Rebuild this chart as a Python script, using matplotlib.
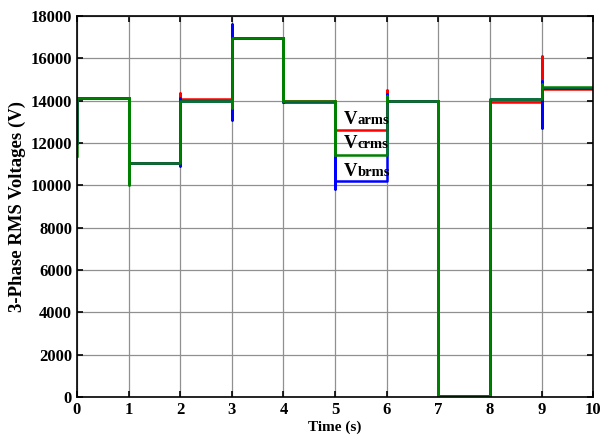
import matplotlib.pyplot as plt
import numpy as np

# --- Данные: уровни напряжений на каждом интервале (1 с) ---
boundaries = [0, 1, 2, 3, 4, 5, 6, 7, 8, 9, 10]
v_a_levels = [14100, 11050, 14050, 16950, 14000, 12600, 14000, 50, 13950, 14550]
v_b_levels = [14100, 11050, 13980, 16950, 13950, 10200, 13980, 50, 14050, 14600]
v_c_levels = [14100, 11050, 13980, 16950, 14000, 11450, 14000, 50, 14050, 14620]

# --- Переходные выбросы на границах интервалов (мин, макс) ---
v_a_spikes = [(12000, 12000), (12100, 12800), (11050, 14350), (14050, 16950), (14000, 16950),
              (12600, 14000), (12600, 14500), (50, 14000), (50, 13950), (13950, 16100)]
v_b_spikes = [(12000, 12000), (11300, 14100), (10900, 14100), (13100, 17600), (13950, 16950),
              (9800, 13950), (10200, 14300), (50, 13980), (50, 14050), (12700, 14900)]
v_c_spikes = [(11400, 11400), (10000, 14100), (11050, 14000), (13650, 16950), (14000, 16950),
              (11450, 14000), (11450, 14200), (50, 14000), (50, 14050), (14050, 14800)]


def build_path(levels, spikes):
    # Строим ступенчатую кривую с вертикальными выбросами на переходах
    t, v = [], []
    prev = spikes[0][0]
    for i, level in enumerate(levels):
        lo, hi = spikes[i]
        t += [boundaries[i]] * 4
        v += [prev, lo, hi, level]
        t.append(boundaries[i + 1])
        v.append(level)
        prev = level
    return np.array(t), np.array(v)


plt.rcParams['font.family'] = ['Liberation Serif', 'DejaVu Serif']
plt.rcParams['font.weight'] = 'bold'

fig = plt.figure(figsize=(6.06, 4.41), dpi=100)
ax = fig.add_axes([0.127, 0.100, 0.852, 0.864])

for levels, spikes, color in [(v_a_levels, v_a_spikes, '#ff0000'),
                              (v_b_levels, v_b_spikes, '#0000ff'),
                              (v_c_levels, v_c_spikes, '#008000')]:
    t, v = build_path(levels, spikes)
    ax.plot(t, v, color=color, linewidth=1.8)

# --- Подписи фаз ---
for y, name in [(12900, 'arms'), (11750, 'crms'), (10450, 'brms')]:
    ax.text(5.17, y, 'V', fontsize=13.5, fontweight='bold', va='baseline')
    ax.text(5.43, y, name, fontsize=10.5, fontweight='bold', va='baseline')

ax.set_xlim(0, 10)
ax.set_ylim(0, 18000)
ax.set_xticks(range(0, 11))
ax.set_yticks(range(0, 18001, 2000))
ax.grid(True, color='#909090', linewidth=0.9)
ax.tick_params(direction='in', top=True, right=True, labelsize=12, length=4, width=1.2)
for lbl in ax.get_xticklabels() + ax.get_yticklabels():
    lbl.set_fontweight('bold')
for spine in ax.spines.values():
    spine.set_linewidth(1.2)

ax.set_xlabel('Time (s)', fontsize=11, fontweight='bold', labelpad=2)
ax.set_ylabel('3-Phase RMS Voltages (V)', fontsize=13.5, fontweight='bold', labelpad=3)

plt.savefig('out.png', dpi=100)
